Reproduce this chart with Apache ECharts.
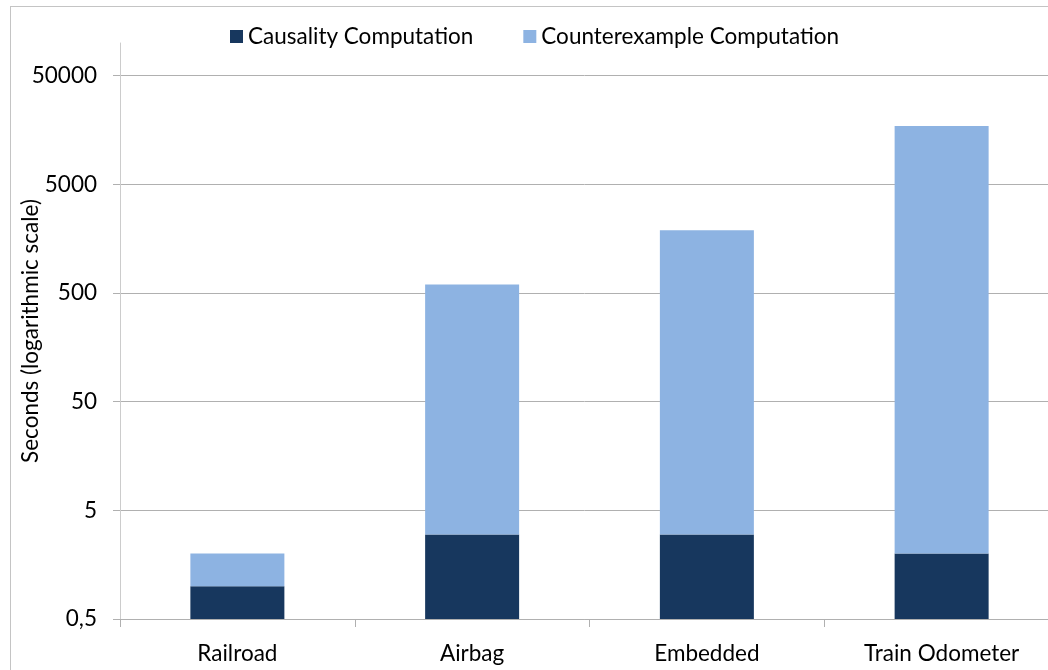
<!DOCTYPE html>
<html>
<head>
<meta charset="utf-8">
<script src="https://cdn.jsdelivr.net/npm/echarts@6/dist/echarts.min.js"></script>
<style>
  html, body { margin: 0; padding: 0; background: #ffffff; }
  #frame { position: absolute; left: 10px; top: 6px; width: 1100px; height: 700px;
           border: 1px solid #c4c4c4; box-sizing: border-box; }
  #chart { position: absolute; left: 0; top: 0; width: 1048px; height: 670px; }
</style>
</head>
<body>
<div id="frame"></div>
<div id="chart"></div>
<script>
// Benchmarks and run times in seconds
const categories = ['Railroad', 'Airbag', 'Embedded', 'Train Odometer'];
const causality = [1, 3, 3, 2];
const counterexample = [1, 597, 1890, 17200];
const seriesNames = ['Causality Computation', 'Counterexample Computation'];
const tickValues = [0.5, 5, 50, 500, 5000, 50000];

const FONT = 'Lato';
const FS = 22.5;
const chart = echarts.init(document.getElementById('chart'), null, { renderer: 'canvas' });

chart.setOption({
  animation: false,
  textStyle: { fontFamily: FONT },
  legend: {
    left: 225,
    top: 20,
    itemWidth: 13,
    itemHeight: 13,
    itemGap: 50,
    icon: 'rect',
    textStyle: { fontFamily: FONT, fontSize: FS, color: '#000' },
    data: seriesNames
  },
  grid: { left: 120, right: -11, top: 43, bottom: 51, containLabel: false, outerBoundsMode: 'none' },
  xAxis: {
    type: 'category',
    data: categories,
    axisLine: { show: true, lineStyle: { color: '#b0b0b0', width: 1 } },
    axisTick: { show: true, length: 8, alignWithLabel: false, lineStyle: { color: '#b0b0b0' } },
    axisLabel: { fontFamily: FONT, fontSize: FS, color: '#000', margin: 23 },
    splitLine: { show: false }
  },
  yAxis: {
    type: 'log',
    logBase: 10,
    min: 0.5,
    max: 100000,
    startValue: 0.5,
    name: 'Seconds (logarithmic scale)',
    nameLocation: 'middle',
    nameGap: 78,
    nameMoveOverlap: false,
    nameTextStyle: { fontFamily: FONT, fontSize: FS, color: '#000' },
    axisLine: { show: true, lineStyle: { color: '#cccccc', width: 1 } },
    axisTick: { show: true, inside: false, length: 7, customValues: tickValues,
                lineStyle: { color: '#b0b0b0' } },
    axisLabel: {
      customValues: tickValues,
      fontFamily: FONT, fontSize: FS, color: '#000', margin: 23,
      formatter: v => String(v).replace('.', ',')
    },
    splitLine: { show: true, lineStyle: { color: '#b0b0b0', width: 1 } }
  },
  series: [
    {
      name: seriesNames[0], type: 'bar', stack: 'time', barWidth: 94,
      itemStyle: { color: '#17375E' }, data: causality
    },
    {
      name: seriesNames[1], type: 'bar', stack: 'time', barWidth: 94,
      itemStyle: { color: '#8DB3E2' }, data: counterexample
    }
  ]
});
</script>
</body>
</html>
